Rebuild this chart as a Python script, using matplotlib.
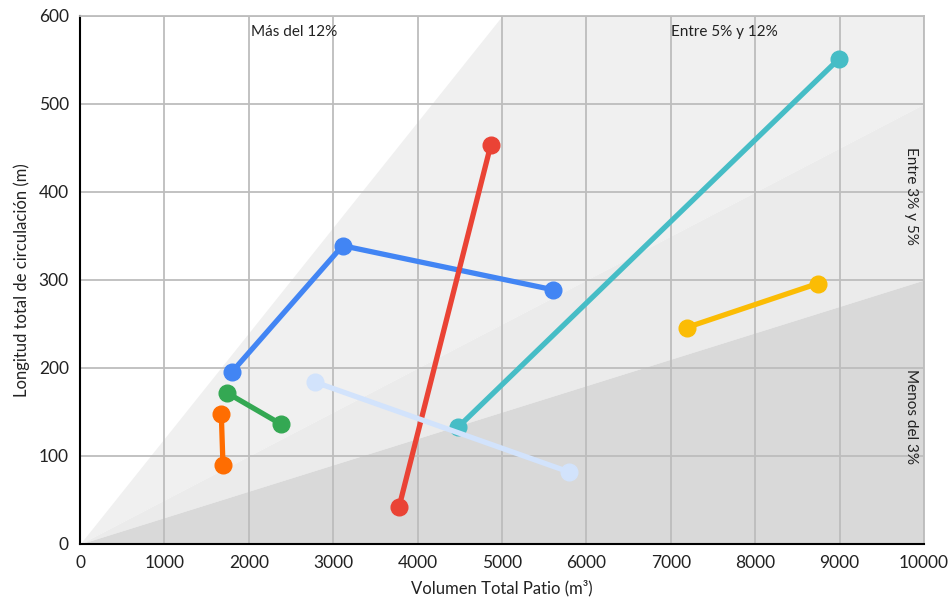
import matplotlib
matplotlib.use("Agg")
import matplotlib.pyplot as plt
import numpy as np

plt.rcParams['font.family'] = ['Lato', 'DejaVu Sans']

# slope bands (length / volume)
slopes = [0.12, 0.05, 0.03]
band_colors = ['#f0f0f0', '#ebebeb', '#d9d9d9']

# series: (x values, y values, colour)
blue_x = [1805, 3112, 5600]
blue_y = [196, 339, 289]
red_x = [3780, 4866]
red_y = [42, 453]
cyan_x = [4482, 8989]
cyan_y = [133, 551]
yellow_x = [7188, 8741]
yellow_y = [246, 296]
lightblue_x = [2784, 5790]
lightblue_y = [184, 82]
green_x = [1738, 2385]
green_y = [172, 136]
orange_x = [1674, 1694]
orange_y = [148, 90]

series = [
    (blue_x, blue_y, '#4285f4'),
    (red_x, red_y, '#ea4335'),
    (cyan_x, cyan_y, '#46bdc6'),
    (yellow_x, yellow_y, '#fbbc04'),
    (lightblue_x, lightblue_y, '#d2e3fc'),
    (green_x, green_y, '#34a853'),
    (orange_x, orange_y, '#ff6d01'),
]

fig = plt.figure(figsize=(9.49, 6.03), dpi=100)
ax = fig.add_axes([80/949, 59/603, 844/949, 528/603])

xs = np.linspace(0, 10000, 201)
ymax = 600
edges = [np.minimum(s*xs, ymax) for s in slopes] + [np.zeros_like(xs)]
for i, c in enumerate(band_colors):
    ax.fill_between(xs, edges[i+1], edges[i], color=c, lw=0, zorder=0)

for x, y, c in series:
    ax.plot(x, y, color=c, lw=3.8, marker='o', markersize=12,
            solid_capstyle='round', zorder=3)

ax.set_xlim(0, 10000)
ax.set_ylim(0, 600)
ax.set_xticks(np.arange(0, 10001, 1000))
ax.set_yticks(np.arange(0, 601, 100))
ax.grid(True, color='#bdbdbd', lw=1.3, zorder=1)
ax.set_axisbelow(True)
for side in ['top', 'right']:
    ax.spines[side].set_color('#bdbdbd')
    ax.spines[side].set_linewidth(1.3)
for side in ['left', 'bottom']:
    ax.spines[side].set_color('black')
    ax.spines[side].set_linewidth(1.5)
ax.tick_params(length=0, labelsize=12.5, pad=8, colors='#222222')

ax.set_xlabel('Volumen Total Patio (m³)', fontsize=12, color='#222222', labelpad=6)
ax.set_ylabel('Longitud total de circulación (m)', fontsize=12, color='#222222', labelpad=6)

ax.text(2535, 590, 'Más del 12%', ha='center', va='top', fontsize=11, color='#222222')
ax.text(7640, 590, 'Entre 5% y 12%', ha='center', va='top', fontsize=11, color='#222222')
ax.text(9930, 395, 'Entre 3% y 5%', ha='right', va='center', rotation=-90,
        fontsize=11, color='#222222')
ax.text(9930, 145, 'Menos del 3%', ha='right', va='center', rotation=-90,
        fontsize=11, color='#222222')

fig.savefig('out.png', dpi=100)
